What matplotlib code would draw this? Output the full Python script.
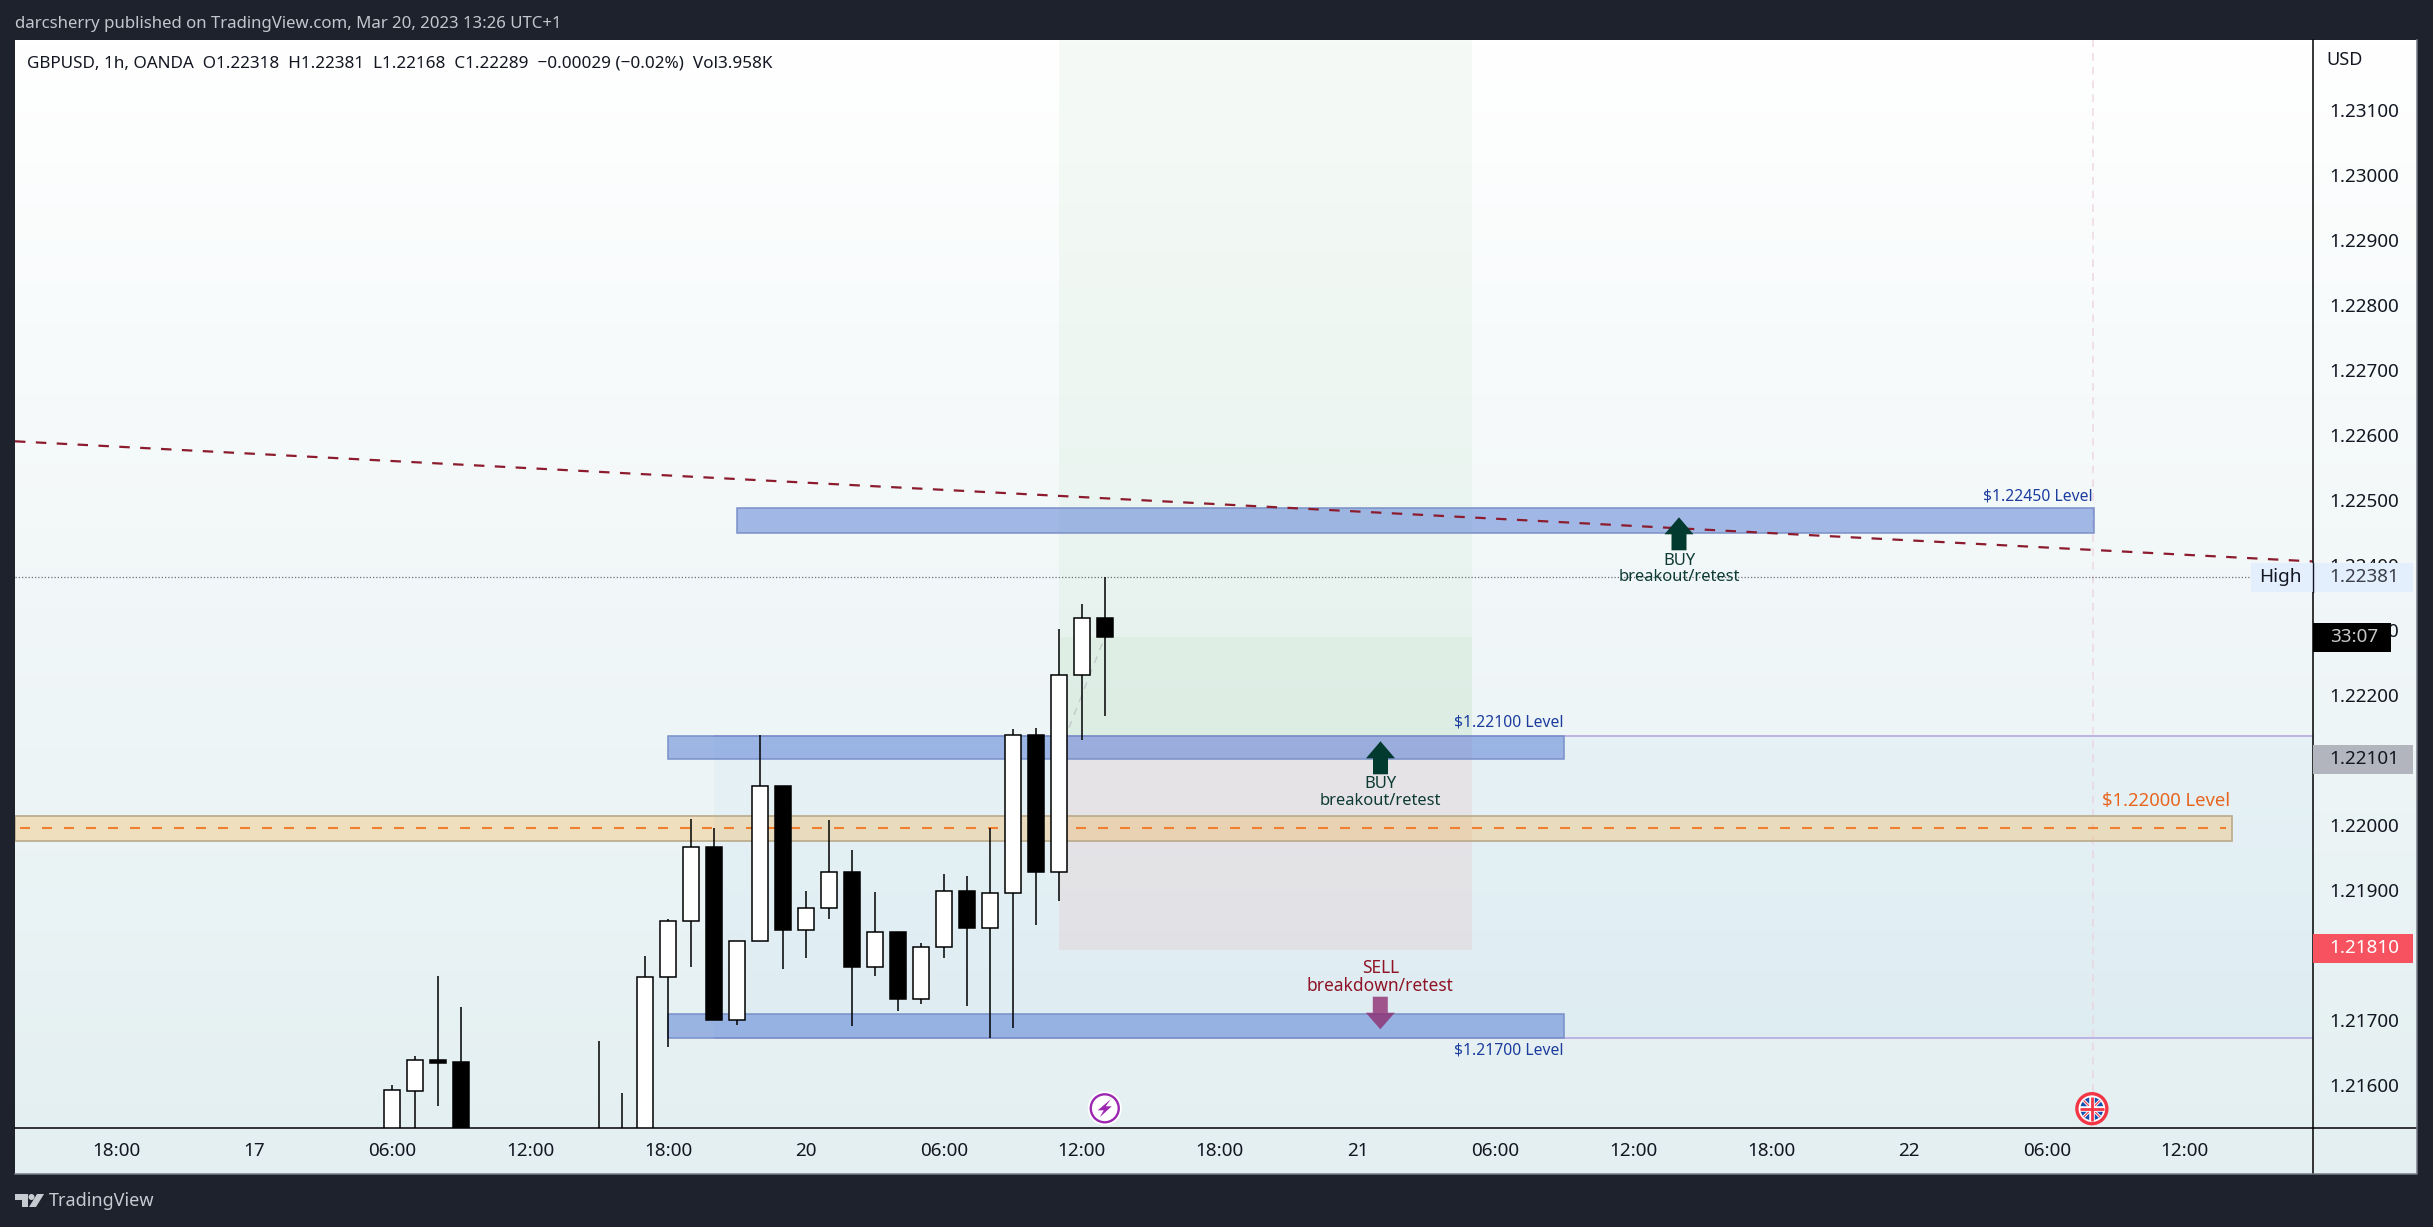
import numpy as np
import matplotlib
matplotlib.use("Agg")
import matplotlib.pyplot as plt
from matplotlib.patches import Rectangle, Polygon, Circle

W, H = 2433, 1227
L, R, T, B = 15, 2312.5, 40, 1128.3        # plot box, px
PR, PB = 2417, 1174                        # panel right/bottom, px
BG = "#1e222d"
plt.rcParams["font.family"] = ["Noto Sans", "DejaVu Sans"]

# ---------- data ----------
hours  = [-18, -17, -16, -15, -9, -8, -7, -6, -5, -4, -3, -2, -1, 0, 1, 2, 3, 4, 5, 6, 7, 8, 9, 10, 11, 12, 13]
opens  = [1.2150, 1.21591, 1.21638, 1.21635, 1.2150, 1.2150, 1.2150, 1.21766, 1.21852, 1.21966, 1.21700, 1.21821,
          1.22060, 1.21838, 1.21872, 1.21927, 1.21781, 1.21835, 1.21733, 1.21812, 1.21898, 1.21841, 1.21895,
          1.22138, 1.21927, 1.22231, 1.22318]
highs  = [1.21600, 1.21644, 1.21768, 1.21720, 1.21668, 1.21588, 1.21798, 1.21856, 1.22009, 1.21996, 1.21821, 1.22138,
          1.22060, 1.21899, 1.22007, 1.21962, 1.21897, 1.21835, 1.21819, 1.21925, 1.21921, 1.21996, 1.22147,
          1.22149, 1.22301, 1.22340, 1.22381]
lows   = [1.2150, 1.2150, 1.21568, 1.2150, 1.2150, 1.2150, 1.2150, 1.21659, 1.21782, 1.21700, 1.21693, 1.21821,
          1.21779, 1.21796, 1.21855, 1.21690, 1.21768, 1.21714, 1.21725, 1.21795, 1.21721, 1.21672, 1.21688,
          1.21846, 1.21883, 1.22131, 1.22168]
closes = [1.21592, 1.21638, 1.21634, 1.2150, 1.2150, 1.2150, 1.21766, 1.21852, 1.21966, 1.21700, 1.21821, 1.22060,
          1.21838, 1.21872, 1.21927, 1.21781, 1.21835, 1.21733, 1.21812, 1.21898, 1.21841, 1.21895, 1.22138,
          1.21927, 1.22231, 1.22318, 1.22289]

price_ticks = [1.216, 1.217, 1.218, 1.219, 1.220, 1.221, 1.222, 1.223, 1.224, 1.225, 1.226, 1.227, 1.228, 1.229, 1.230, 1.231]
time_ticks  = [-30, -24, -18, -12, -6, 0, 6, 12, 18, 24, 30, 36, 42, 48, 54, 60]
time_labels = ["18:00", "17", "06:00", "12:00", "18:00", "20", "06:00", "12:00", "18:00", "21",
               "06:00", "12:00", "18:00", "22", "06:00", "12:00"]

level_bands = [(-3, 56.05, 1.224488, 1.224872), (-6, 33, 1.221020, 1.221365), (-6, 33, 1.216718, 1.217088)]
orange_band = (1.219749, 1.220143)
orange_level = 1.219954
position_hours = (11, 29)
entry, stop, last_close, high_price = 1.221375, 1.218078, 1.22289, 1.22381
box_low = 1.216718
trend_prices = (1.225903, 1.224055)
event_hour, bolt_hour = 56, 13

# ---------- scales ----------
PXH, X0 = 22.98, 806.0
PXP, Y0 = 65000.0, 825.0
xmin, xmax = (L - X0) / PXH, (R - X0) / PXH
ymax, ymin = 1.22 + (Y0 - T) / PXP, 1.22 + (Y0 - B) / PXP
def xp(h): return X0 + PXH * h
def pr(y): return 1.22 + (Y0 - y) / PXP

fig = plt.figure(figsize=(W / 100, H / 100), dpi=100, facecolor=BG)
def pos(x0, y0, x1, y1):
    return [x0 / W, 1 - y1 / H, (x1 - x0) / W, (y1 - y0) / H]

# gradient panel
bg = fig.add_axes(pos(L, T, PR, PB), zorder=0)
top, bot = np.array([255, 255, 255]) / 255, np.array([227, 239, 241]) / 255
t = np.linspace(0, 1, 256)[:, None, None]
bg.imshow(top * (1 - t) + bot * t, aspect="auto", extent=[0, 1, 0, 1])
bg.set_axis_off()

ax = fig.add_axes(pos(L, T, R, B), zorder=1, facecolor="none")
ax.set_xlim(xmin, xmax)
ax.set_ylim(ymin, ymax)
for s in ax.spines.values():
    s.set_visible(False)
ax.yaxis.tick_right()
ax.set_yticks(price_ticks, [f"{p:.5f}" for p in price_ticks])
ax.set_xticks(time_ticks, time_labels)
ax.tick_params(axis="y", length=0, pad=11.9, labelsize=13.6, labelcolor="#131722")
ax.tick_params(axis="x", length=0, pad=10, labelsize=13.6, labelcolor="#131722")
for lab, txt in zip(ax.get_xticklabels(), time_labels):
    if txt == "20":
        lab.set_fontweight("bold")

# blue range box + lines
ax.add_patch(Rectangle((-4, box_low), xmax + 4, entry - box_low, fc="#2196f3", alpha=0.04, ec="none", zorder=1))
for p in (entry, box_low):
    ax.plot([-4, xmax], [p, p], color="#b9aee2", lw=1.3, zorder=1.2, solid_capstyle="butt")

# position tool
h0, h1 = position_hours
ax.add_patch(Rectangle((h0, entry), h1 - h0, ymax - entry, fc="#4caf50", alpha=0.05, ec="none", zorder=1.5))
ax.add_patch(Rectangle((h0, entry), h1 - h0, last_close - entry, fc="#4caf50", alpha=0.05, ec="none", zorder=1.5))
ax.add_patch(Rectangle((h0, stop), h1 - h0, entry - stop, fc="#f44336", alpha=0.07, ec="none", zorder=1.5))

# bands
for a, b, lo, hi in level_bands:
    ax.add_patch(Rectangle((a, lo), b - a, hi - lo, fc="#3f6ad0", alpha=0.45, ec="none", zorder=2))
    ax.add_patch(Rectangle((a, lo), b - a, hi - lo, fc="none", ec="#7a90c8", lw=1.1, zorder=2.05))
ax.add_patch(Rectangle((xmin, orange_band[0]), 62.04 - xmin, orange_band[1] - orange_band[0],
                       fc="#ff9800", alpha=0.22, ec="none", zorder=2))
ax.add_patch(Rectangle((xmin, orange_band[0]), 62.04 - xmin, orange_band[1] - orange_band[0],
                       fc="none", ec="#bdae90", lw=1.3, zorder=2.05))
ax.plot([xmin + 0.2, 61.8], [orange_level] * 2, color="#f08030", lw=1.5, dashes=(4.8, 5.76), zorder=2.2)

# high dotted line
ax.plot([xmin, (2251 - X0) / PXH], [high_price] * 2, color="#6a6f7a", lw=0.9, dashes=(1, 1.6), zorder=2.5)
# event line
ax.plot([event_hour] * 2, [pr(1092), ymax], color="#eccfdc", lw=1.1, dashes=(5, 4), alpha=0.8, zorder=1.3)
# connector
ax.plot([(1069 - X0) / PXH, 13], [pr(727.6), last_close], color="#c4c8cc", lw=1, dashes=(5, 5), zorder=2.6)

# candles
hrs, o, hi, lo, c = map(np.array, (hours, opens, highs, lows, closes))
ax.vlines(hrs, lo, hi, color="black", lw=1.1, zorder=3)
up = c >= o
ax.bar(hrs[up], (c - o)[up], bottom=o[up], width=0.70, color="white", edgecolor="black", lw=1.1, zorder=3.1)
ax.bar(hrs[~up], (o - c)[~up], bottom=c[~up], width=0.70, color="black", edgecolor="black", lw=1.1, zorder=3.1)

# trend
ax.plot([xmin, xmax], trend_prices, color="#8c1c2d", lw=1.6, dashes=(4.7, 4.7), zorder=3.5)

# ---------- overlay in pixels ----------
ov = fig.add_axes([0, 0, 1, 1], zorder=2, facecolor="none")
ov.set_xlim(0, W); ov.set_ylim(H, 0); ov.set_axis_off()

# frame lines
ov.plot([R, R], [T, PB], color="black", lw=1.1, zorder=1)
ov.plot([L, PR], [B, B], color="black", lw=1.1, zorder=1)
ov.plot([PR, PR, L], [T, PB, PB], color="#787b86", lw=1.1, zorder=1)

# headers
ov.text(15, 24, "darcsherry published on TradingView.com, Mar 20, 2023 13:26 UTC+1", color="#c4c6ce", fontsize=12.1, va="center")
ov.text(27, 63, "GBPUSD, 1h, OANDA  O1.22318  H1.22381  L1.22168  C1.22289  \u22120.00029 (\u22120.02%)  Vol3.958K",
        color="#131722", fontsize=12.3, va="center")
ov.text(2326, 60, "USD", color="#131722", fontsize=13, va="center")

# tags
def tag(x0, x1, y0, y1, fc, zo=6):
    ov.add_patch(Rectangle((x0, y0), x1 - x0, y1 - y0, fc=fc, ec="none", zorder=zo))
tag(2251, 2412.5, 563, 592, "#e3effd")
ov.plot([R, R], [563, 592], color="#131722", lw=1, zorder=6.5)
ov.text(2280, 577, "High", ha="center", va="center", fontsize=13.6, color="#131722", zorder=7)
ov.text(2329, 577, "1.22381", ha="left", va="center", fontsize=13.6, color="#3a3e48", zorder=7)
tag(R, 2390.5, 622.7, 651.7, "black")
ov.text(2354, 637, "33:07", ha="center", va="center", fontsize=13.6, color="#c8c8c8", zorder=7)
tag(R, 2412.5, 745, 773.7, "#b2b5be")
ov.text(2329, 759, "1.22101", ha="left", va="center", fontsize=13.6, color="#131722", zorder=7)
tag(R, 2412.5, 934, 962.7, "#f7525f")
ov.text(2329, 948, "1.21810", ha="left", va="center", fontsize=13.6, color="white", zorder=7)

# level labels
blue = "#1c3d9e"
ov.text(2093, 496, "$1.22450 Level", ha="right", va="center", fontsize=11.3, color=blue)
ov.text(1564, 723, "$1.22100 Level", ha="right", va="center", fontsize=11.3, color=blue)
ov.text(1564, 1050, "$1.21700 Level", ha="right", va="center", fontsize=11.3, color=blue)
ov.text(2230, 801, "$1.22000 Level", ha="right", va="center", fontsize=13.3, color="#e8651f")

# arrows + texts
def up_arrow(x, tip):
    ov.add_patch(Polygon([(x, tip), (x + 14.5, tip + 17), (x + 7.5, tip + 17), (x + 7.5, tip + 33),
                          (x - 7.5, tip + 33), (x - 7.5, tip + 17), (x - 14.5, tip + 17)], fc="#023a30", ec="none", zorder=3))
green = "#0e3b33"
for x, tip, y1, y2 in [(1679, 517.3, 560.7, 577), (1380.5, 741.3, 784.3, 801)]:
    up_arrow(x, tip)
    ov.text(x, y1, "BUY", ha="center", va="center", fontsize=11.9, color=green)
    ov.text(x, y2, "breakout/retest", ha="center", va="center", fontsize=11.9, color=green)
x, y = 1380.3, 996.7
ov.add_patch(Polygon([(x - 7.5, y), (x + 7.5, y), (x + 7.5, y + 16), (x + 14.5, y + 16), (x, y + 32.6),
                      (x - 14.5, y + 16), (x - 7.5, y + 16)], fc="#8e2a6e", alpha=0.78, ec="none", zorder=3))
red = "#8e1426"
ov.text(x, 968, "SELL", ha="center", va="center", fontsize=12.5, color=red)
ov.text(x, 986, "breakdown/retest", ha="center", va="center", fontsize=12.5, color=red)

# lightning icon
cx, cy = xp(bolt_hour), 1108.3
ov.add_patch(Circle((cx, cy), 17, fc="white", ec="none", zorder=3))
ov.add_patch(Circle((cx, cy), 14, fc="white", ec="#9c27b0", lw=1.7, zorder=3.1))
ov.add_patch(Polygon([(cx + 6, cy - 9), (cx - 7, cy + 2), (cx - 1, cy + 2), (cx - 5, cy + 9), (cx + 7, cy - 2), (cx + 1, cy - 2)],
                     fc="#9c27b0", ec="none", zorder=3.2))

# flag icon
fx, fy = xp(event_hour) - 1, 1108.7
ov.add_patch(Circle((fx, fy), 15, fc="white", ec="#f23645", lw=2.4, zorder=3))
ov.add_patch(Circle((fx, fy), 11.5, fc="#1450b0", ec="none", zorder=3.1))
d = 11.5 * np.cos(np.radians(45))
for s in (1, -1):
    ov.plot([fx - d, fx + d], [fy - s * d, fy + s * d], color="white", lw=2.2, zorder=3.2, solid_capstyle="butt")
    ov.plot([fx - d, fx + d], [fy - s * d, fy + s * d], color="#f23645", lw=0.8, zorder=3.3, solid_capstyle="butt")
ov.plot([fx - 12, fx + 12], [fy, fy], color="white", lw=4, zorder=3.4, solid_capstyle="butt")
ov.plot([fx, fx], [fy - 12, fy + 12], color="white", lw=4, zorder=3.4, solid_capstyle="butt")
ov.plot([fx - 12, fx + 12], [fy, fy], color="#f23645", lw=2, zorder=3.5, solid_capstyle="butt")
ov.plot([fx, fx], [fy - 12, fy + 12], color="#f23645", lw=2, zorder=3.5, solid_capstyle="butt")

# TradingView logo
lg = "#c8cad2"
ov.add_patch(Polygon([(15, 1194), (28, 1194), (28, 1207), (22, 1207), (22, 1200), (15, 1200)], fc=lg, ec="none"))
ov.add_patch(Circle((31.5, 1197), 3, fc=lg, ec="none"))
ov.add_patch(Polygon([(37, 1194), (44, 1194), (36, 1207), (29, 1207)], fc=lg, ec="none"))
ov.text(49, 1201, "TradingView", color=lg, fontsize=13, va="center")

fig.savefig("out.png", dpi=100, facecolor=BG)
